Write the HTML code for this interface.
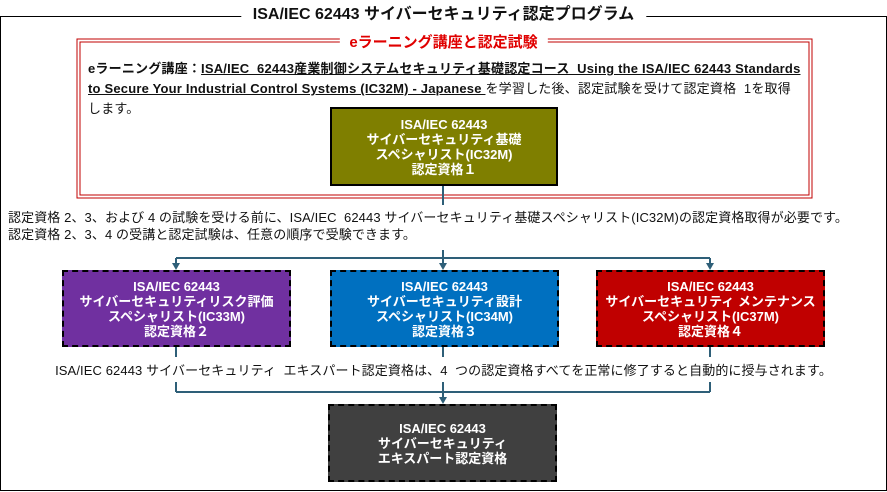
<!DOCTYPE html>
<html><head><meta charset="utf-8"><style>
body{margin:0;width:887px;height:492px;background:#fff;position:relative;overflow:hidden;font-family:"Liberation Sans","Noto Sans CJK JP",sans-serif;}
.a{position:absolute;}
.box{position:absolute;color:#fff;font-weight:bold;font-size:13px;line-height:15px;text-align:center;display:flex;align-items:center;justify-content:center;box-sizing:border-box;}
.dash{border:2px dashed #000;}
.t{position:absolute;white-space:nowrap;font-size:13px;color:#111;}
</style></head><body>
<svg class="a" style="left:0;top:0" width="887" height="492">
<rect x="0.5" y="16.5" width="886" height="474" fill="none" stroke="#000" stroke-width="1"/>
<rect x="77" y="39" width="735" height="159" fill="none" stroke="#c00000" stroke-width="1"/>
<rect x="80" y="42" width="729" height="153" fill="none" stroke="#c00000" stroke-width="1"/>
<g stroke="#2e5f78" stroke-width="2" fill="none">
<line x1="443" y1="185" x2="443" y2="205"/>
<line x1="443" y1="250" x2="443" y2="258"/>
<line x1="176" y1="258" x2="710" y2="258"/>
<line x1="176" y1="258" x2="176" y2="264"/>
<line x1="443" y1="258" x2="443" y2="264"/>
<line x1="710" y1="258" x2="710" y2="264"/>
<line x1="176" y1="347" x2="176" y2="357"/>
<line x1="443" y1="347" x2="443" y2="357"/>
<line x1="710" y1="347" x2="710" y2="357"/>
<line x1="176" y1="382" x2="176" y2="392"/>
<line x1="710" y1="382" x2="710" y2="392"/>
<line x1="443" y1="382" x2="443" y2="398"/>
<line x1="176" y1="392" x2="710" y2="392"/>
</g>
<g fill="#2e5f78">
<polygon points="172,263 180,263 176,270"/>
<polygon points="439,263 447,263 443,270"/>
<polygon points="706,263 714,263 710,270"/>
<polygon points="439,397 447,397 443,404"/>
</g>
</svg>
<div class="t" style="top:5px;padding:0 12px;background:#fff;font-size:16px;font-weight:bold;line-height:20px;left:50%;transform:translateX(-50%)">ISA/IEC 62443 サイバーセキュリティ認定プログラム</div>
<div class="t" style="top:33px;left:50%;transform:translateX(-50%);padding:0 10px;background:#fff;color:#e00000;font-size:15px;font-weight:bold;line-height:20px">eラーニング講座と認定試験</div>
<div class="a" style="left:88px;top:59px;width:730px;font-size:13px;letter-spacing:0.2px;line-height:20px;color:#111;white-space:nowrap"><b>eラーニング講座：<u>ISA/IEC&nbsp; 62443産業制御システムセキュリティ基礎認定コース&nbsp; Using the ISA/IEC 62443 Standards</u></b><br><b><u>to Secure Your Industrial Control Systems (IC32M) - Japanese </u></b> を学習した後、認定試験を受けて認定資格&nbsp; 1を取得<br>します。</div>
<div class="box" style="left:330px;top:107px;width:228px;height:79px;background:#7f7f00;border:2px solid #000">ISA/IEC 62443<br>サイバーセキュリティ基礎<br>スペシャリスト(IC32M)<br>認定資格１</div>
<div class="t" style="left:8px;top:209px;line-height:17px;letter-spacing:0.1px">認定資格 2、3、および 4 の試験を受ける前に、ISA/IEC&nbsp; 62443 サイバーセキュリティ基礎スペシャリスト(IC32M)の認定資格取得が必要です。<br>認定資格 2、3、4 の受講と認定試験は、任意の順序で受験できます。</div>
<div class="box dash" style="left:62px;top:270px;width:229px;height:77px;background:#7030a0">ISA/IEC 62443<br>サイバーセキュリティリスク評価<br>スペシャリスト(IC33M)<br>認定資格２</div>
<div class="box dash" style="left:330px;top:270px;width:229px;height:77px;background:#0070c0">ISA/IEC 62443<br>サイバーセキュリティ設計<br>スペシャリスト(IC34M)<br>認定資格３</div>
<div class="box dash" style="left:596px;top:270px;width:229px;height:77px;background:#c00000">ISA/IEC 62443<br>サイバーセキュリティ メンテナンス<br>スペシャリスト(IC37M)<br>認定資格４</div>
<div class="t" style="left:50%;transform:translateX(-50%);top:362px;line-height:17px;letter-spacing:0.1px">ISA/IEC 62443 サイバーセキュリティ&nbsp; エキスパート認定資格は、4&nbsp; つの認定資格すべてを正常に修了すると自動的に授与されます。</div>
<div class="box dash" style="left:328px;top:404px;width:229px;height:78px;background:#404040">ISA/IEC 62443<br>サイバーセキュリティ<br>エキスパート認定資格</div>
</body></html>
